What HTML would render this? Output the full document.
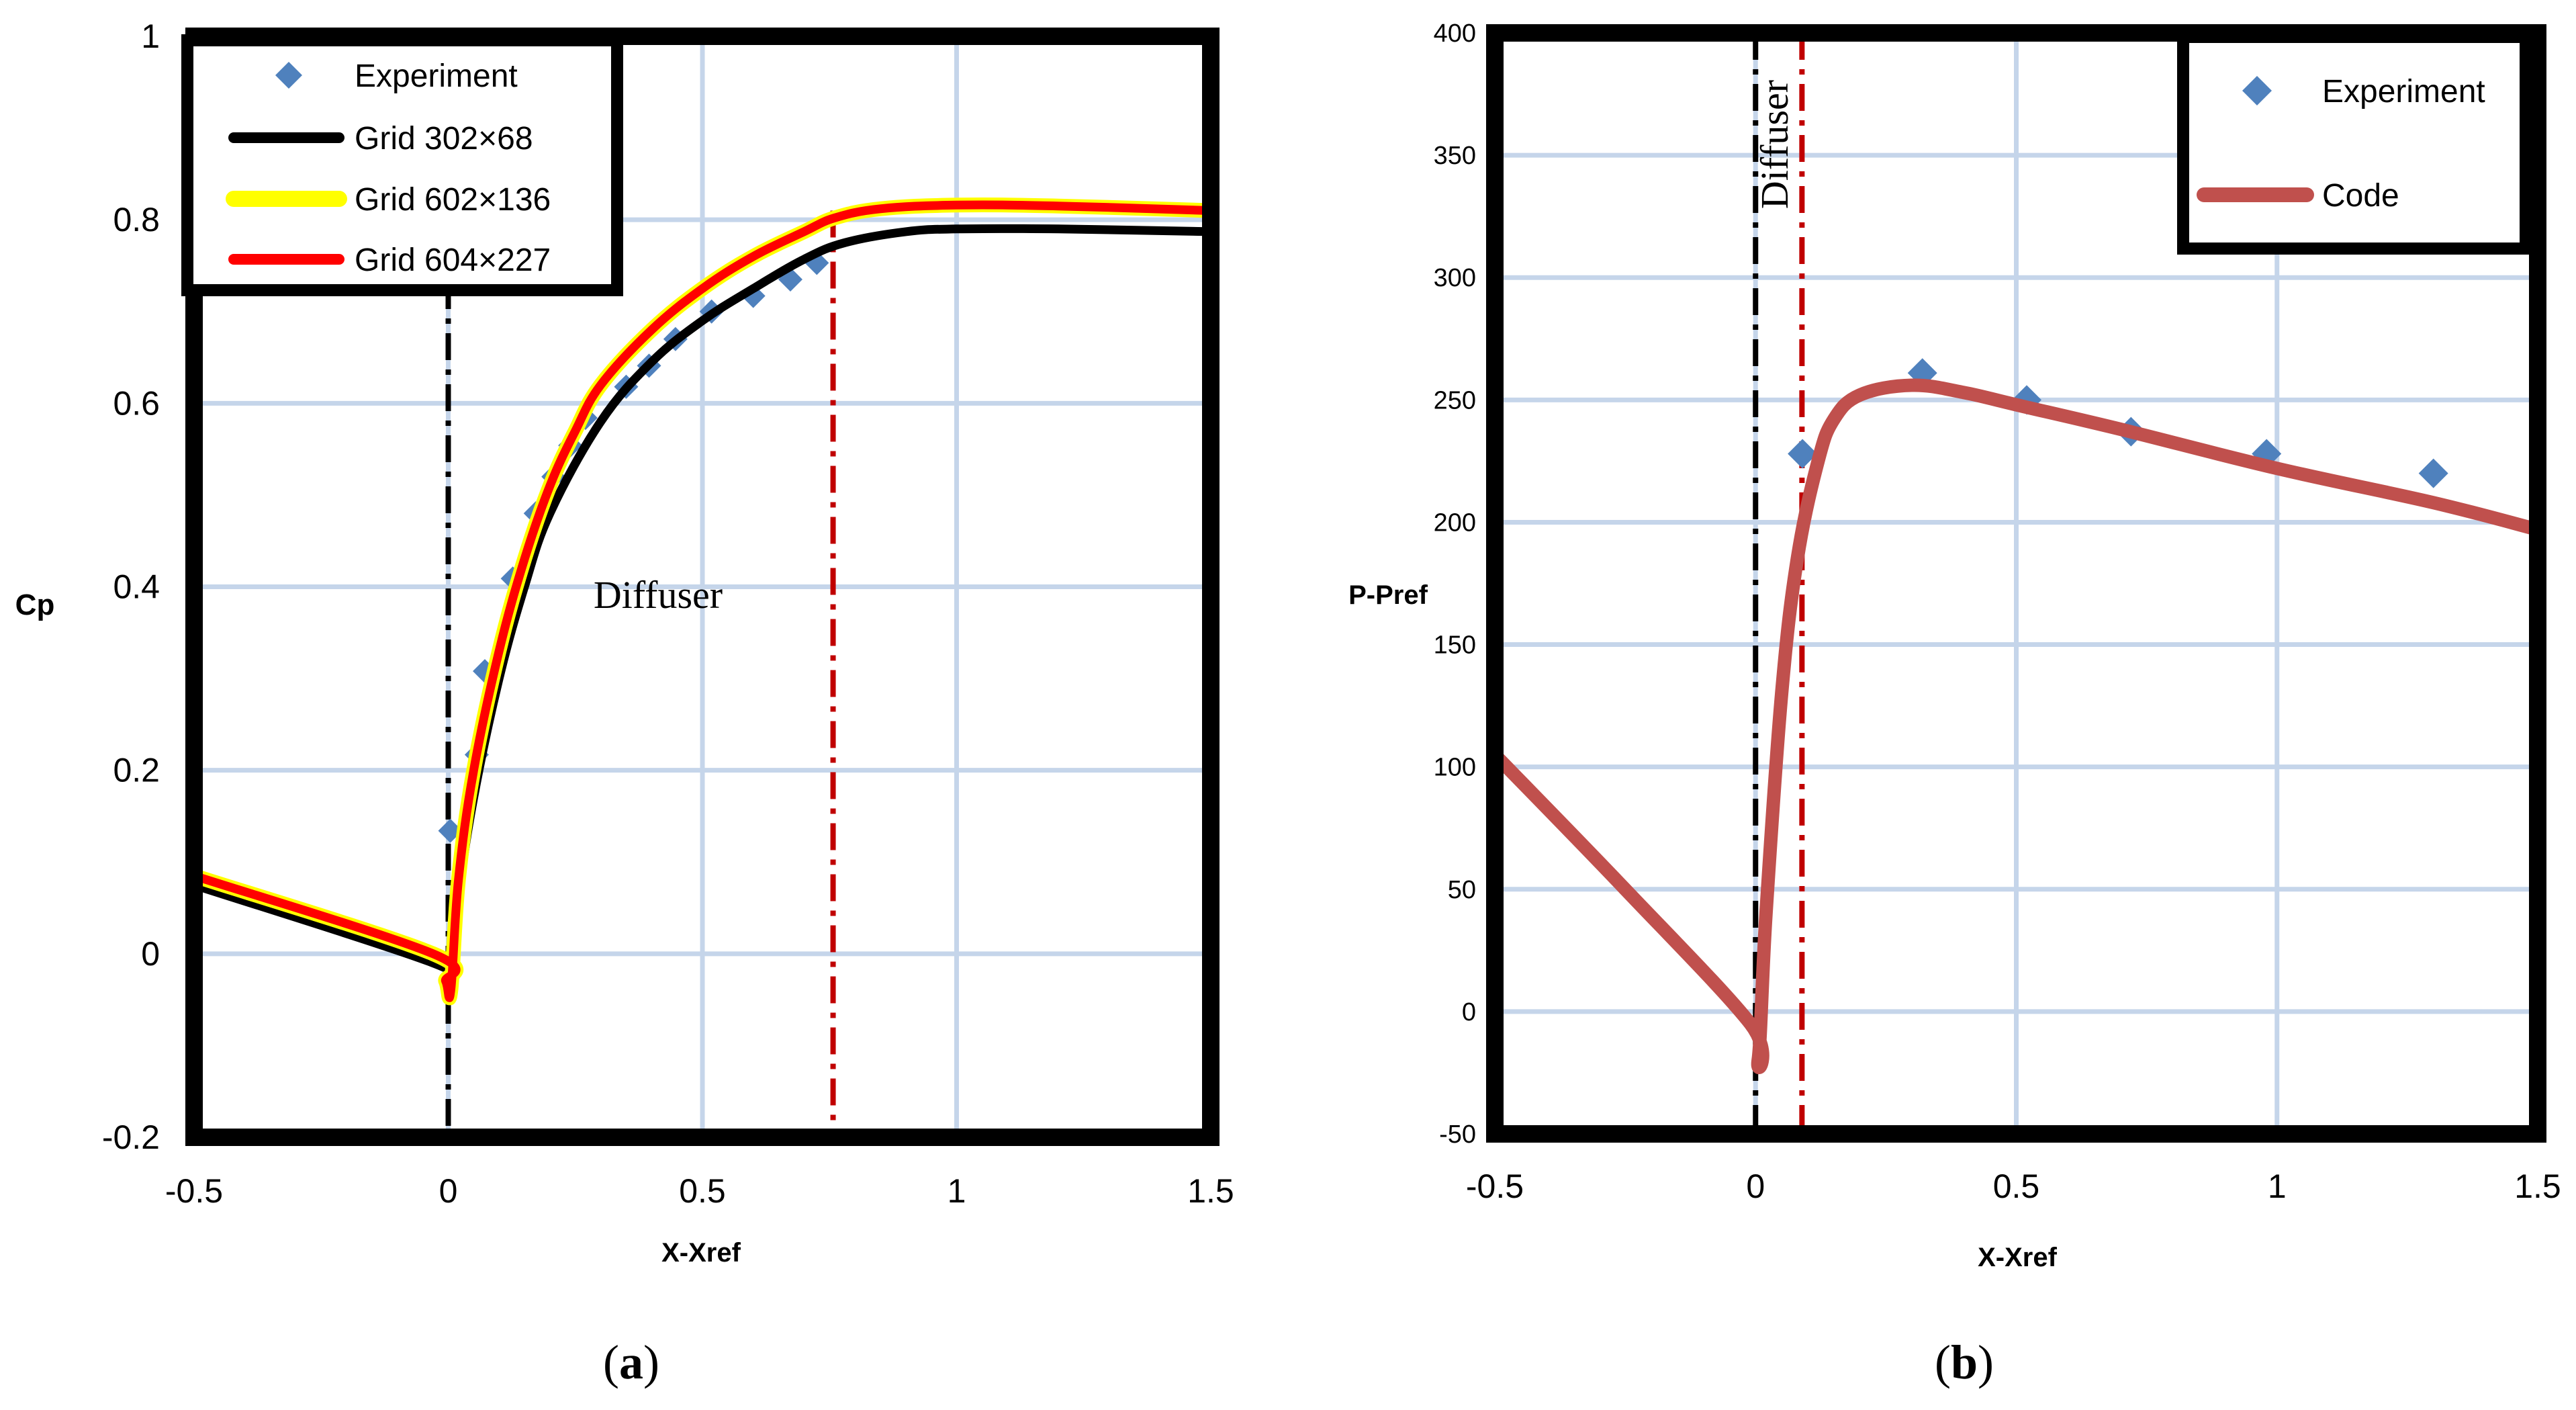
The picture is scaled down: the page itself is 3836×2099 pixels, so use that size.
<!DOCTYPE html>
<html><head><meta charset="utf-8">
<style>
html,body{margin:0;padding:0;background:#fff;}
svg{display:block;}
text{font-family:"Liberation Sans",sans-serif;}
</style></head>
<body>
<svg id="fig" width="3836" height="2099" viewBox="0 0 3836 2099" xmlns="http://www.w3.org/2000/svg">
<g id="chartA"></g>
<g id="chartB"></g>
</svg>
<script>
// ---- Chart (a) data ----
const aXTicks = [-0.5, 0, 0.5, 1, 1.5];
const aXTickLabels = ["-0.5", "0", "0.5", "1", "1.5"];
const aYTicks = [-0.2, 0, 0.2, 0.4, 0.6, 0.8, 1];
const aYTickLabels = ["-0.2", "0", "0.2", "0.4", "0.6", "0.8", "1"];
const aFineX = [-0.5, -0.03, -0.005, 0.005, 0.02, 0.05, 0.1, 0.15, 0.2, 0.25, 0.3, 0.4, 0.5, 0.6, 0.7, 0.76, 0.85, 1.0, 1.2, 1.5];
const aFineY = [0.085, 0.0, -0.03, -0.04, 0.08, 0.2, 0.33, 0.43, 0.51, 0.57, 0.62, 0.68, 0.725, 0.76, 0.787, 0.802, 0.812, 0.816, 0.815, 0.81];
const aCoarseX = [-0.5, -0.03, -0.005, 0.005, 0.02, 0.05, 0.1, 0.15, 0.2, 0.3, 0.4, 0.5, 0.6, 0.7, 0.78, 0.9, 1.0, 1.2, 1.5];
const aCoarseY = [0.075, -0.01, -0.03, -0.045, 0.06, 0.17, 0.30, 0.40, 0.48, 0.58, 0.645, 0.69, 0.725, 0.757, 0.775, 0.787, 0.79, 0.79, 0.787];
const aExpX = [0.004, 0.056, 0.072, 0.127, 0.172, 0.207, 0.24, 0.27, 0.35, 0.395, 0.447, 0.518, 0.6, 0.673, 0.725];
const aExpY = [0.134, 0.217, 0.308, 0.409, 0.48, 0.52, 0.554, 0.584, 0.618, 0.641, 0.67, 0.70, 0.717, 0.735, 0.753];
const aMarkers = [0, 0.757];
// ---- Chart (b) data ----
const bXTicks = [-0.5, 0, 0.5, 1, 1.5];
const bXTickLabels = ["-0.5", "0", "0.5", "1", "1.5"];
const bYTicks = [-50, 0, 50, 100, 150, 200, 250, 300, 350, 400];
const bYTickLabels = ["-50", "0", "50", "100", "150", "200", "250", "300", "350", "400"];
const bCodeX = [-0.5, -0.25, -0.01, 0.005, 0.02, 0.05, 0.08, 0.12, 0.15, 0.2, 0.3, 0.4, 0.5, 0.7, 1.0, 1.3, 1.5];
const bCodeY = [105, 50, -5, -20, 40, 130, 185, 225, 242, 252, 256, 253, 248, 238, 222, 208, 197];
const bExpX = [0.09, 0.32, 0.52, 0.72, 0.98, 1.3];
const bExpY = [228, 261, 250, 237, 228, 220];
const bMarkers = [0, 0.089];

const NS = "http://www.w3.org/2000/svg";
function mk(parent, tag, attrs, txt) {
  const e = document.createElementNS(NS, tag);
  for (const k in attrs) e.setAttribute(k, attrs[k]);
  if (txt !== undefined) e.textContent = txt;
  parent.appendChild(e);
  return e;
}
function lin(d0, d1, r0, r1) { return v => r0 + (v - d0) * (r1 - r0) / (d1 - d0); }
function pathD(xs, ys, sx, sy) {
  const p = xs.map((x, i) => [sx(x), sy(ys[i])]);
  let d = "M" + p[0][0].toFixed(1) + "," + p[0][1].toFixed(1);
  for (let i = 0; i < p.length - 1; i++) {
    const p0 = p[Math.max(0, i - 1)], p1 = p[i], p2 = p[i + 1], p3 = p[Math.min(p.length - 1, i + 2)];
    const t = 0.18;
    const c1 = [p1[0] + (p2[0] - p0[0]) * t, p1[1] + (p2[1] - p0[1]) * t];
    const c2 = [p2[0] - (p3[0] - p1[0]) * t, p2[1] - (p3[1] - p1[1]) * t];
    d += " C" + c1[0].toFixed(1) + "," + c1[1].toFixed(1) + " " + c2[0].toFixed(1) + "," + c2[1].toFixed(1) + " " + p2[0].toFixed(1) + "," + p2[1].toFixed(1);
  }
  return d;
}
function diamond(g, cx, cy, r) { return mk(g, "polygon", {points: `${cx},${cy-r} ${cx+r},${cy} ${cx},${cy+r} ${cx-r},${cy}`, fill: "#4f81bd"}); }

// ===== Chart A =====
(function () {
  const g = document.getElementById("chartA");
  const L = 289, R = 1803, T = 54, B = 1693;
  const sx = lin(-0.5, 1.5, L, R), sy = lin(-0.2, 1, B, T);
  const grid = mk(g, "g", {});
  
  
  aXTicks.forEach(v => { mk(grid, "line", {x1: sx(v), x2: sx(v), y1: T, y2: B, stroke: "#c5d5ea", "stroke-width": 7}); });
  aYTicks.forEach(v => { mk(grid, "line", {x1: L, x2: R, y1: sy(v), y2: sy(v), stroke: "#c5d5ea", "stroke-width": 7}); });
  const mcol = ["#000", "#c00000"];
  aMarkers.forEach((v, i) => {
    const ln = mk(g, "line", {x1: sx(v), x2: sx(v), y1: i ? sy(0.81) : 420, y2: B, stroke: mcol[i], "stroke-width": 8, "stroke-dasharray": "40,14,8,14"});
    
    
  });
  const exp = mk(g, "g", {});
  
  
  aExpX.forEach((x, i) => { diamond(exp, sx(x), sy(aExpY[i]), 18); });
  const c1 = mk(g, "path", {d: pathD(aCoarseX, aCoarseY, sx, sy), fill: "none", stroke: "#000", "stroke-width": 13, "stroke-linejoin": "round"});
  
  
  const c2 = mk(g, "path", {d: pathD(aFineX, aFineY, sx, sy), fill: "none", stroke: "#ffff00", "stroke-width": 22, "stroke-linejoin": "round"});
  
  
  const c3 = mk(g, "path", {d: pathD(aFineX, aFineY, sx, sy), fill: "none", stroke: "#ff0000", "stroke-width": 13, "stroke-linejoin": "round"});
  
  
  const fr = mk(g, "rect", {x: L, y: T, width: R - L, height: B - T, fill: "none", stroke: "#000", "stroke-width": 26});
  
  
  const lg = mk(g, "g", {});
  
  
  mk(lg, "rect", {x: 279, y: 60, width: 640, height: 372, fill: "#fff", stroke: "#000", "stroke-width": 18});
  diamond(lg, 430, 112, 20);
  const ly = [112, 205, 296, 386], lab = ["Experiment", "Grid 302×68", "Grid 602×136", "Grid 604×227"];
  const lcol = [null, "#000", "#ffff00", "#ff0000"], lw = [0, 16, 24, 16];
  lab.forEach((t, i) => {
    if (i) mk(lg, "line", {x1: 348, x2: 505, y1: ly[i], y2: ly[i], stroke: lcol[i], "stroke-width": lw[i], "stroke-linecap": "round"});
    const tt = mk(lg, "text", {x: 528, y: ly[i] + 17, "font-size": 48, fill: "#000"}, t);
    
    
  });
  aXTicks.forEach((v, i) => { const t = mk(g, "text", {x: sx(v), y: 1790, "font-size": 50, "text-anchor": "middle"}, aXTickLabels[i]);
      });
  aYTicks.forEach((v, i) => { const t = mk(g, "text", {x: 238, y: sy(v) + 17, "font-size": 50, "text-anchor": "end"}, aYTickLabels[i]);
      });
  const yt = mk(g, "text", {x: 52, y: 915, "font-size": 44, "font-weight": "bold", "text-anchor": "middle"}, "Cp");
   
  const xt = mk(g, "text", {x: 1044, y: 1878, "font-size": 40, "font-weight": "bold", "text-anchor": "middle"}, "X-Xref");
   
  const df = mk(g, "text", {x: 980, y: 905, "font-size": 58, "text-anchor": "middle", style: "font-family:'Liberation Serif',serif"}, "Diffuser");
   
  const cap = mk(g, "text", {x: 940, y: 2052, "font-size": 72, "text-anchor": "middle", style: "font-family:'Liberation Serif',serif"}, "");
  cap.innerHTML = '(<tspan font-weight="bold">a</tspan>)';
   
})();

// ===== Chart B =====
(function () {
  const g = document.getElementById("chartB");
  const L = 2226, R = 3779, T = 49, B = 1688;
  const sx = lin(-0.5, 1.5, L, R), sy = lin(-50, 400, B, T);
  const grid = mk(g, "g", {});
  
  
  bXTicks.forEach(v => { mk(grid, "line", {x1: sx(v), x2: sx(v), y1: T, y2: B, stroke: "#c5d5ea", "stroke-width": 7}); });
  bYTicks.forEach(v => { mk(grid, "line", {x1: L, x2: R, y1: sy(v), y2: sy(v), stroke: "#c5d5ea", "stroke-width": 7}); });
  const mcol = ["#000", "#c00000"];
  bMarkers.forEach((v, i) => {
    const ln = mk(g, "line", {x1: sx(v), x2: sx(v), y1: T, y2: B, stroke: mcol[i], "stroke-width": 8, "stroke-dasharray": "40,14,8,14"});
    
    
  });
  const exp = mk(g, "g", {});
  
  
  bExpX.forEach((x, i) => { diamond(exp, sx(x), sy(bExpY[i]), 22); });
  const c = mk(g, "path", {d: pathD(bCodeX, bCodeY, sx, sy), fill: "none", stroke: "#c0504d", "stroke-width": 20, "stroke-linejoin": "round"});
  
  
  const fr = mk(g, "rect", {x: L, y: T, width: R - L, height: B - T, fill: "none", stroke: "#000", "stroke-width": 26});
  
  
  const lg = mk(g, "g", {});
  
  
  mk(lg, "rect", {x: 3251, y: 55, width: 510, height: 315, fill: "#fff", stroke: "#000", "stroke-width": 18});
  diamond(lg, 3361, 135, 22);
  const t1 = mk(lg, "text", {x: 3458, y: 152, "font-size": 48}, "Experiment");
   
  mk(lg, "line", {x1: 3282, x2: 3435, y1: 290, y2: 290, stroke: "#c0504d", "stroke-width": 22, "stroke-linecap": "round"});
  const t2 = mk(lg, "text", {x: 3458, y: 307, "font-size": 48}, "Code");
   
  bXTicks.forEach((v, i) => { const t = mk(g, "text", {x: sx(v), y: 1783, "font-size": 50, "text-anchor": "middle"}, bXTickLabels[i]);
      });
  bYTicks.forEach((v, i) => { const t = mk(g, "text", {x: 2198, y: sy(v) + 13, "font-size": 38, "text-anchor": "end"}, bYTickLabels[i]);
      });
  const yt = mk(g, "text", {x: 2067, y: 899, "font-size": 40, "font-weight": "bold", "text-anchor": "middle"}, "P-Pref");
   
  const xt = mk(g, "text", {x: 3004, y: 1885, "font-size": 40, "font-weight": "bold", "text-anchor": "middle"}, "X-Xref");
   
  const df = mk(g, "text", {x: 0, y: 0, "font-size": 58, "text-anchor": "middle", transform: "translate(2662,215) rotate(-90)", style: "font-family:'Liberation Serif',serif"}, "Diffuser");
   
  const cap = mk(g, "text", {x: 2925, y: 2052, "font-size": 72, "text-anchor": "middle", style: "font-family:'Liberation Serif',serif"}, "");
  cap.innerHTML = '(<tspan font-weight="bold">b</tspan>)';
   
})();
</script>
</body></html>
